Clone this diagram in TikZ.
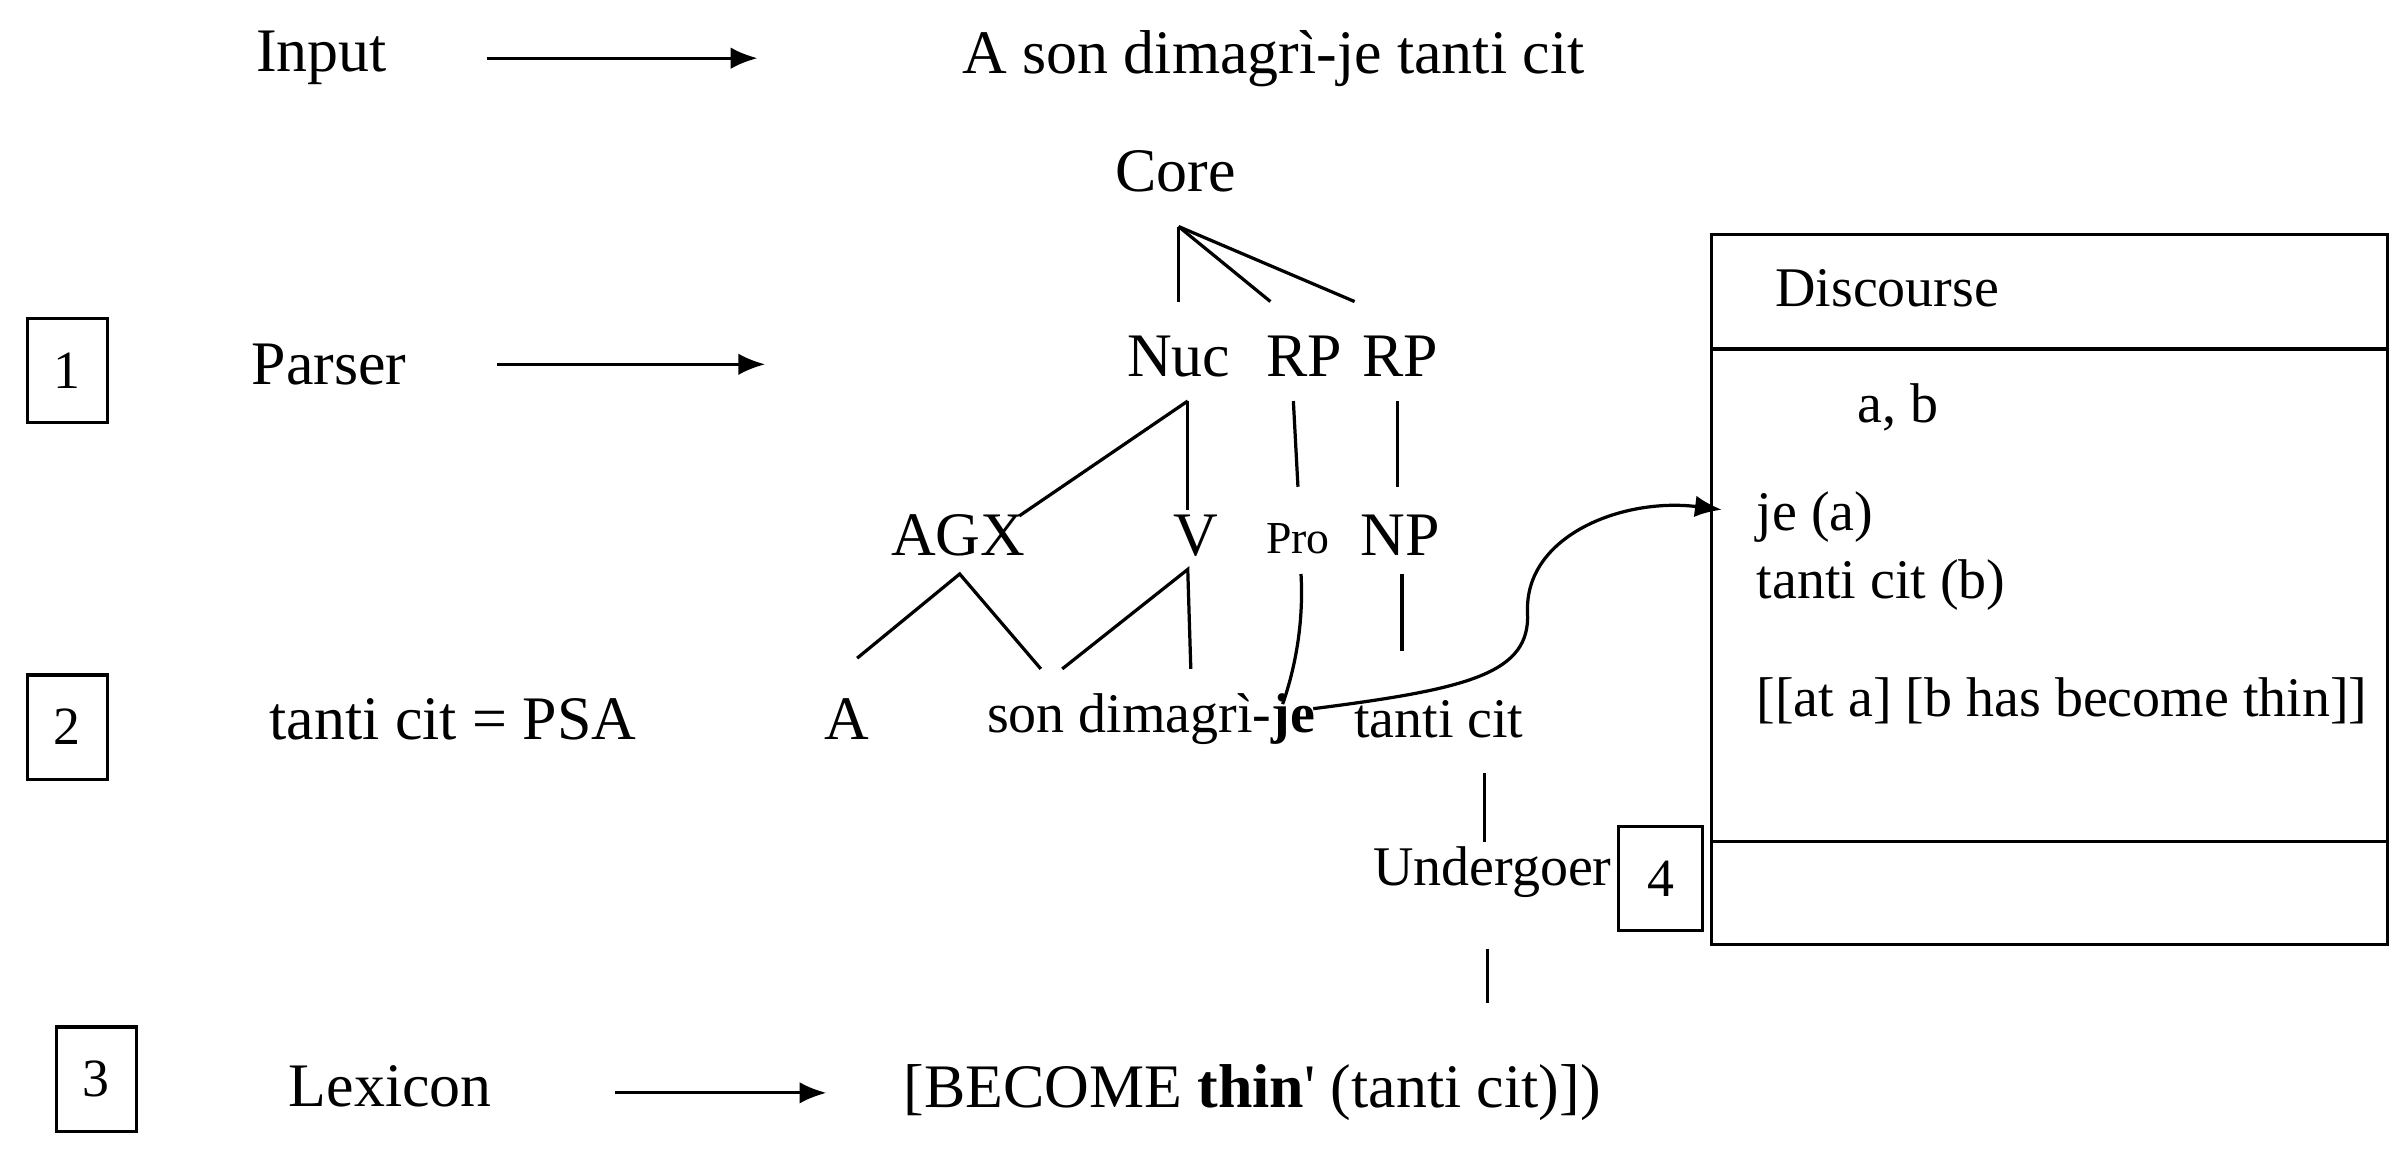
\documentclass[tikz,border=0pt]{standalone}
\usepackage{fontspec}
\setmainfont{Liberation Serif}
\begin{document}
\begin{tikzpicture}[x=0.01cm,y=-0.01cm,
  t/.style={inner sep=0pt,font=\fontsize{11.5}{14}\selectfont},
  ts/.style={inner sep=0pt,font=\fontsize{10.4}{13}\selectfont},
  sm/.style={inner sep=0pt,font=\fontsize{8.5}{10}\selectfont},
  ln/.style={line width=0.6pt},
  ar/.style={line width=0.6pt,-{Latex[length=5pt,width=4pt]}},
  bx/.style={draw,line width=0.6pt,minimum width=0.52cm,minimum height=0.68cm,inner sep=0pt,font=\fontsize{10}{12}\selectfont}]
\usetikzlibrary{arrows.meta}
\useasboundingbox (0,0) rectangle (1568,757);
% row input
\node[t] (input) at (210,38) {Input};
\coordinate (ia1) at (318,38); \coordinate (ia2) at (495,38);
\draw[ar] (ia1) -- (ia2);
\node[t] (sent) at (832,38) {A son dimagrì-je tanti cit};
% tree
\node[t] (core) at (768,112) {Core};
\node[t] (nuc) at (770,233) {Nuc};
\node[t] (rp1) at (852,233) {RP};
\node[t] (rp2) at (915,233) {RP};
\coordinate (c0) at (770,148);
\coordinate (n0) at (770,197); \coordinate (r10) at (830,197); \coordinate (r20) at (885,197);
\draw[ln] (c0) -- (n0); \draw[ln] (c0) -- (r10); \draw[ln] (c0) -- (r20);
\node[t] (agx) at (626,350) {AGX};
\node[t] (v) at (781,350) {V};
\node[sm] (pro) at (848,352) {Pro};
\node[t] (np) at (915,350) {NP};
\coordinate (nb) at (776,262);
\coordinate (agxt) at (666,337); \coordinate (vt) at (776,333);
\draw[ln] (nb) -- (agxt); \draw[ln] (nb) -- (vt);
\coordinate (rp1b) at (845,262); \coordinate (prot) at (848,318);
\draw[ln] (rp1b) -- (prot);
\coordinate (rp2b) at (913,262); \coordinate (npt) at (913,318);
\draw[ln] (rp2b) -- (npt);
\node[t] (a) at (553,470) {A};
\node[ts] (son) at (752,470) {son dimagrì-\textbf{je}};
\node[ts] (tc) at (940,470) {tanti cit};
\coordinate (agxb) at (627,375); \coordinate (al) at (560,430); \coordinate (ar) at (680,437);
\draw[ln] (al) -- (agxb) -- (ar);
\coordinate (vb) at (776,372); \coordinate (vl) at (694,437); \coordinate (vr) at (778,437);
\draw[ln] (vl) -- (vb) -- (vr);
\coordinate (prob) at (850,375); \coordinate (proe) at (838,460);
\draw[ln] (prob) .. controls (852,410) and (845,440) .. (proe);
\coordinate (npb) at (916,375); \coordinate (npe) at (916,425);
\draw[ln] (npb) -- (npe);
% je arrow
\coordinate (je) at (858,463); \coordinate (jt) at (1125,333);
\draw[ar] (je) .. controls (960,450) and (1000,440) .. (998,400) .. controls (996,350) and (1060,325) .. (jt);
% undergoer
\coordinate (u1) at (970,505); \coordinate (u2) at (970,550);
\draw[ln] (u1) -- (u2);
\node[ts] (und) at (975,570) {Undergoer};
\coordinate (u3) at (972,620); \coordinate (u4) at (972,655);
\draw[ln] (u3) -- (u4);
% numbered boxes
\node[bx] (b1) at (44,242) {1};
\node[bx] (b2) at (44,475) {2};
\node[bx] (b3) at (63,705) {3};
\node[bx,minimum width=0.55cm] (b4) at (1085,574) {4};
% left labels
\node[t] (parser) at (215,238) {Parser};
\coordinate (pa1) at (325,238); \coordinate (pa2) at (500,238);
\draw[ar] (pa1) -- (pa2);
\node[t] (psa) at (296,470) {tanti cit = PSA};
\node[t] (lex) at (255,710) {Lexicon};
\coordinate (la1) at (402,714); \coordinate (la2) at (540,714);
\draw[ar] (la1) -- (la2);
\node[t] (lr) at (818,714) {[BECOME \textbf{thin}\textquotesingle{} (tanti cit)])};
% discourse box
\coordinate (d1) at (1118,153); \coordinate (d2) at (1560,617);
\draw[ln] (d1) rectangle (d2);
\coordinate (h1) at (1118,228); \coordinate (h2) at (1560,228);
\draw[ln] (h1) -- (h2);
\coordinate (f1) at (1118,550); \coordinate (f2) at (1560,550);
\draw[ln] (f1) -- (f2);
\node[ts] (disc) at (1233,188) {Discourse};
\node[ts] (ab) at (1240,266) {a, b};
\node[ts,anchor=west] (dje) at (1147,338) {je (a)};
\node[ts,anchor=west] (dtc) at (1147,382) {tanti cit (b)};
\node[ts,anchor=west] (drs) at (1147,458) {[[at a] [b has become thin]]};
\end{tikzpicture}
\end{document}
